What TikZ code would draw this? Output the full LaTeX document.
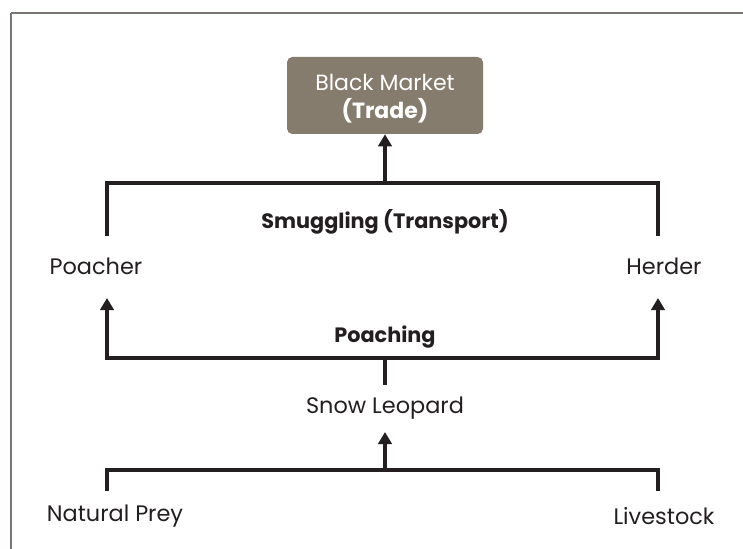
\documentclass[tikz,border=0pt]{standalone}
\usepackage{fontspec}
\setmainfont{Poppins}
\usetikzlibrary{arrows.meta}
\definecolor{boxfill}{HTML}{867C6E}
\definecolor{framec}{HTML}{7A7572}
\definecolor{ink}{HTML}{231F20}
\tikzset{
  lbl/.style={font=\fontsize{16.8}{19}\selectfont, text=ink, inner sep=0pt},
  blbl/.style={font=\fontsize{15.6}{18}\selectfont\bfseries, text=ink, inner sep=0pt},
  mbox/.style={fill=boxfill, rounded corners=4pt, minimum width=147pt, minimum height=57.75pt, inner sep=0pt},
  mtext/.style={align=center, text=white, font=\fontsize{16.5}{21}\selectfont, inner sep=0pt},
  conn/.style={draw=ink, line width=2.3pt},
  arr/.style={conn, -{Triangle[width=10pt,length=9pt]}},
}
\begin{document}
\begin{tikzpicture}[x=0.75pt,y=-0.75pt]
\useasboundingbox (0,0) rectangle (743,549);
\fill[white] (0,0) rectangle (743,549);
\draw[framec, line width=1.6pt] (11,13) -- (745,13);
\draw[framec, line width=1.6pt] (11,13) -- (11,551);
\node[mbox] (bm) at (385,95.5) {};
\node[mtext] (bmt) at (385,99) {Black Market\\\textbf{(Trade)}};
\coordinate (tm) at (385,183);
\coordinate (tl) at (107,236);
\coordinate (tr) at (658,236);
\node[blbl] (smug) at (385,222) {Smuggling (Transport)};
\node[lbl] (poacher) at (96,266) {Poacher};
\node[lbl] (herder) at (664,266) {Herder};
\coordinate (ml) at (107,298);
\coordinate (mr) at (658,298);
\coordinate (mm) at (385,358);
\node[blbl] (poaching) at (385,337) {Poaching};
\coordinate (sl) at (385,385);
\node[lbl] (snow) at (385,408) {Snow Leopard};
\coordinate (bm2) at (385,470);
\coordinate (bl) at (107,491);
\coordinate (br) at (658,491);
\coordinate (st) at (385,432);
\node[lbl] (prey) at (115,516) {Natural Prey};
\node[lbl] (live) at (664,516) {Livestock};
\draw[conn] (tl) |- (tm) -| (tr);
\draw[arr] (tm) -- (bm.south);
\draw[conn] (sl) -- (mm);
\draw[arr] (mm) -| (ml);
\draw[arr] (mm) -| (mr);
\draw[conn] (bl) |- (bm2) -| (br);
\draw[arr] (bm2) -- (st);
\end{tikzpicture}
\end{document}
